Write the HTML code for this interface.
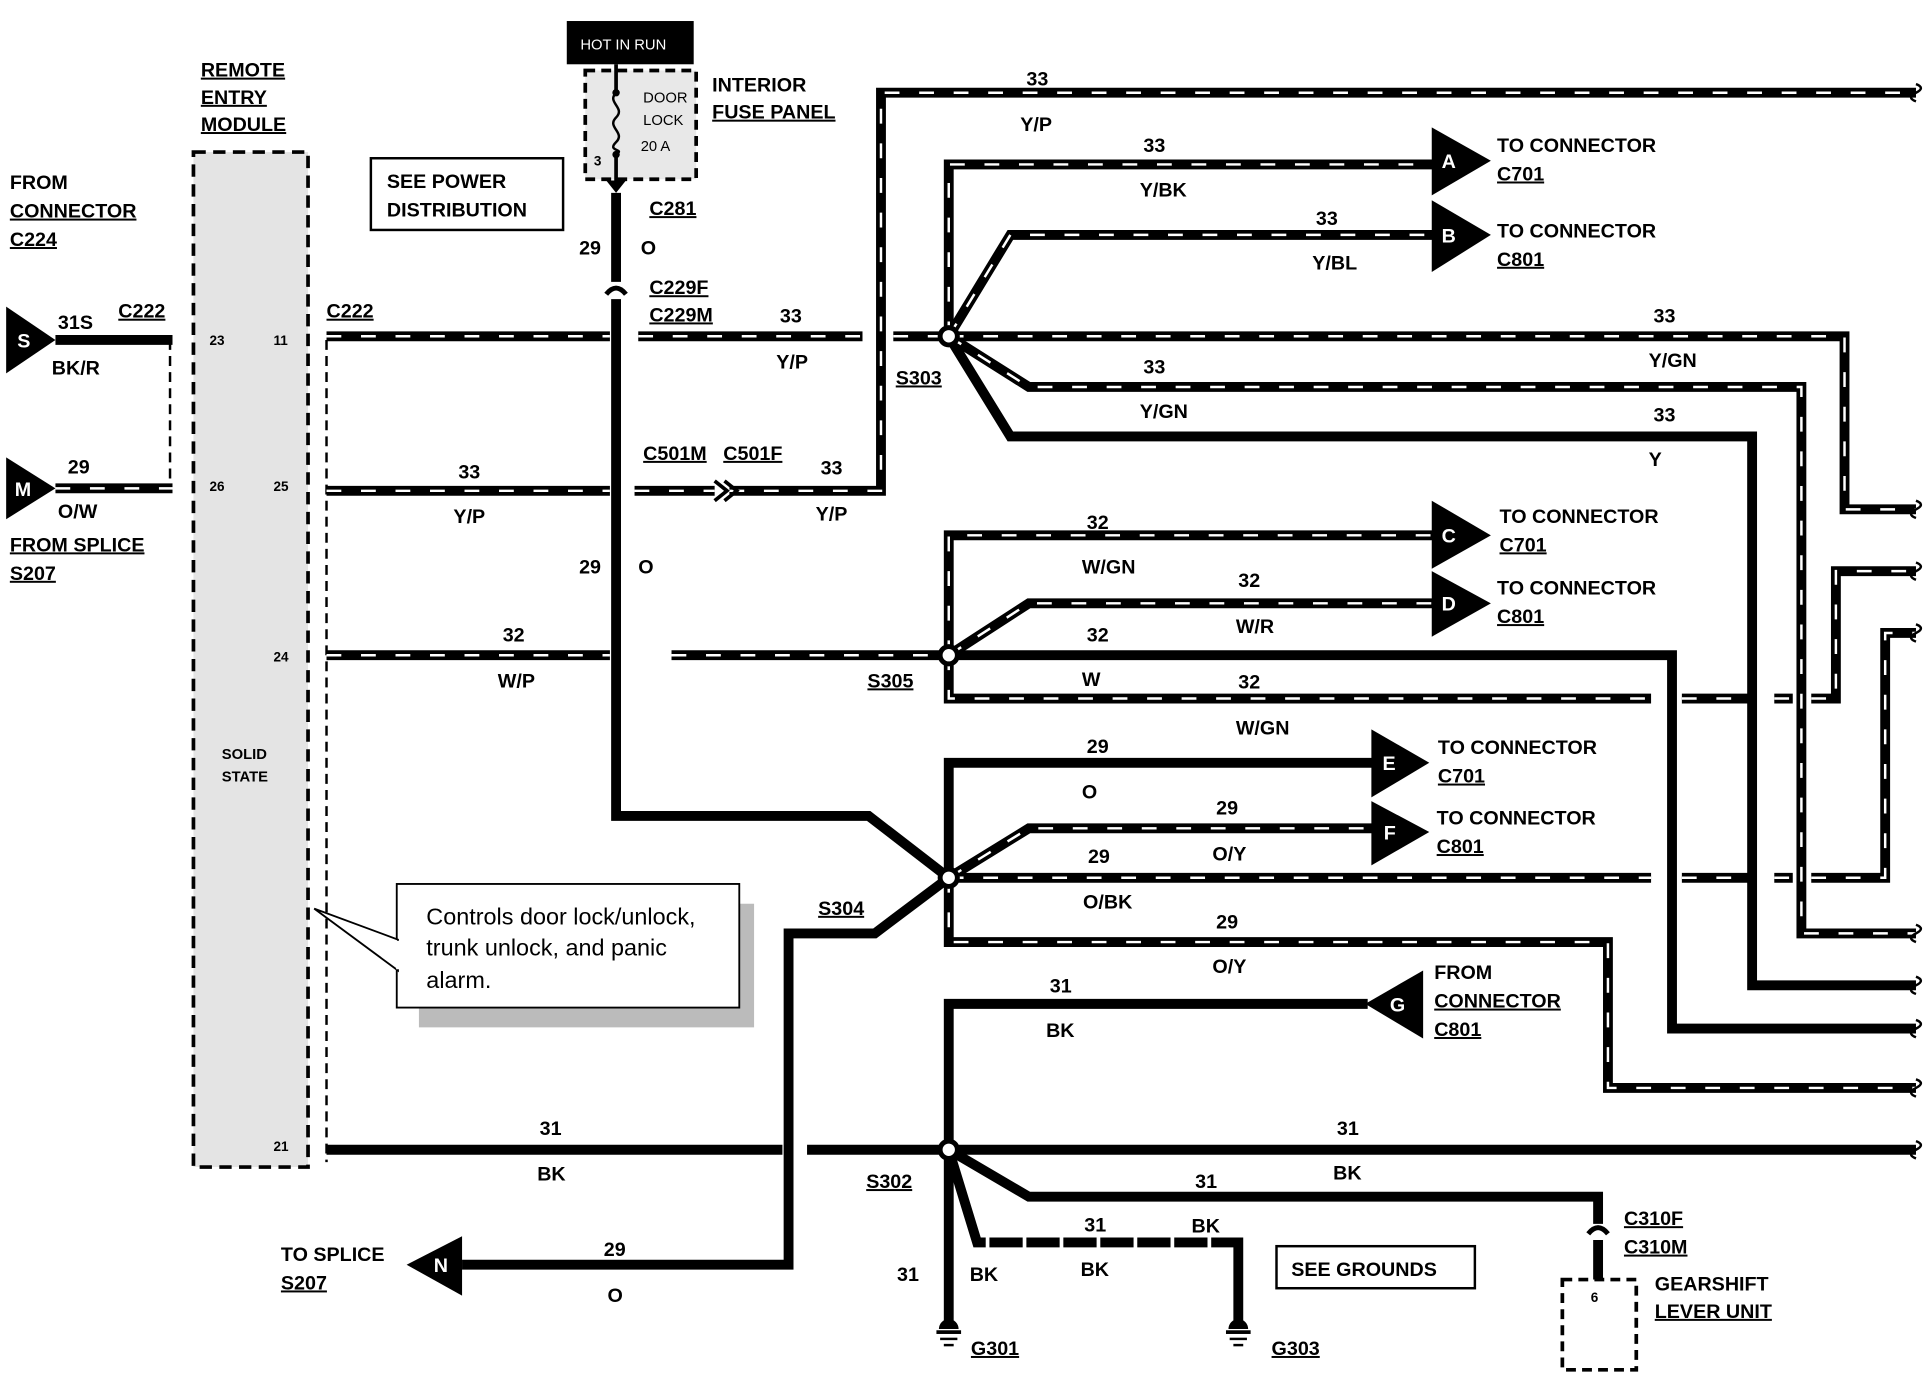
<!DOCTYPE html>
<html><head><meta charset="utf-8"><style>
html,body{margin:0;padding:0;background:#fff}
svg{display:block}
text{font-family:"Liberation Sans",sans-serif;font-weight:bold;font-size:16px;fill:#000}
.u{text-decoration:underline}
.w{stroke:#000;stroke-width:8;fill:none;stroke-linejoin:miter}
.s{stroke:#fff;stroke-width:2;fill:none;stroke-dasharray:12 16}
</style></head><body>
<svg width="1932" height="1376" viewBox="0 0 1568 1113" preserveAspectRatio="none" xmlns="http://www.w3.org/2000/svg">
<defs>
<g id="striped">
<path d="M265 272H495M518 272H700M725 272H770"/>
<path d="M45 395H140"/>
<path d="M265 397H495M515 397H580M592 397H715V75H1555"/>
<path d="M770 272V133H1165"/>
<path d="M770 272L820 190H1165"/>
<path d="M770 272H1497V412H1555"/>
<path d="M770 272L835 313H1462V755H1555"/>
<path d="M265 530H495M545 530H765"/>
<path d="M770 530V433H1165"/>
<path d="M770 530L835 488H1165"/>
<path d="M770 530V565H1340M1365 565H1420M1440 565H1455M1470 565H1490V462H1555"/>
<path d="M770 710L835 670H1115"/>
<path d="M770 710H1340M1365 710H1420M1440 710H1455M1470 710H1530V512H1555"/>
<path d="M770 710V762H1305V880H1555"/>
</g>
</defs>
<!-- module -->
<rect x="157" y="123" width="93" height="821" fill="#e4e4e4" stroke="#000" stroke-width="3" stroke-dasharray="10 6"/>
<text x="163" y="62" class="u">REMOTE</text>
<text x="163" y="84" class="u">ENTRY</text>
<text x="163" y="106" class="u">MODULE</text>
<g style="font-size:11px">
<text x="170" y="279" style="font-size:11px">23</text><text x="222" y="279" style="font-size:11px">11</text>
<text x="170" y="397" style="font-size:11px">26</text><text x="222" y="397" style="font-size:11px">25</text>
<text x="222" y="535" style="font-size:11px">24</text><text x="222" y="931" style="font-size:11px">21</text>
<text x="180" y="614" style="font-size:12px">SOLID</text><text x="180" y="632" style="font-size:12px">STATE</text>
</g>
<!-- left connectors -->
<polygon points="5,248 45,275 5,302" fill="#000"/><text x="14" y="281" style="fill:#fff">S</text>
<polygon points="5,370 45,395 5,420" fill="#000"/><text x="12" y="401" style="fill:#fff">M</text>
<path d="M45 275H140" class="w"/>
<path d="M138 275V395" stroke="#000" stroke-width="2" stroke-dasharray="8 5"/>
<path d="M265 275V940" stroke="#000" stroke-width="2" stroke-dasharray="8 5"/>
<text x="47" y="266">31S</text><text x="42" y="303">BK/R</text><text x="96" y="257" class="u">C222</text>
<text x="55" y="383">29</text><text x="47" y="419">O/W</text>
<text x="8" y="153">FROM</text><text x="8" y="176" class="u">CONNECTOR</text><text x="8" y="199" class="u">C224</text>
<text x="8" y="446" class="u">FROM SPLICE</text><text x="8" y="469" class="u">S207</text>
<text x="265" y="257" class="u">C222</text>
<!-- fuse -->
<rect x="460" y="17" width="103" height="35" fill="#000"/>
<text x="471" y="40" style="fill:#fff;font-size:12px;font-weight:normal">HOT IN RUN</text>
<rect x="475" y="57" width="90" height="88" fill="#e8e8e8" stroke="#000" stroke-width="3" stroke-dasharray="8 5"/>
<path d="M500 52V75M500 125V150" stroke="#000" stroke-width="3"/>
<path d="M500 75c-8 8 8 12 0 20s8 12 0 20 8 5 0 10" stroke="#000" stroke-width="2" fill="none"/>
<circle cx="500" cy="75" r="3"/><circle cx="500" cy="125" r="3"/>
<text x="522" y="83" style="font-size:12px;font-weight:normal">DOOR</text>
<text x="522" y="101" style="font-size:12px;font-weight:normal">LOCK</text>
<text x="520" y="122" style="font-size:12px;font-weight:normal">20 A</text>
<text x="482" y="134" style="font-size:11px">3</text>
<polygon points="492,146 508,146 500,156" fill="#000"/>
<text x="578" y="74">INTERIOR</text><text x="578" y="96" class="u">FUSE PANEL</text>
<text x="527" y="174" class="u">C281</text>
<rect x="301" y="128" width="156" height="58" fill="#fff" stroke="#000" stroke-width="2"/>
<text x="314" y="152">SEE POWER</text><text x="314" y="175">DISTRIBUTION</text>
<!-- solid wires -->
<path d="M500 156V228M500 242V660H705L770 710" class="w"/>
<path d="M492 238q8-10 16 0" stroke="#000" stroke-width="4" fill="none"/>
<path d="M770 530H1357V832H1555" class="w"/>
<path d="M770 272L820 353H1422V797H1555" class="w"/>
<path d="M770 710V617H1115" class="w"/>
<path d="M770 710L710 755H640V1023H375" class="w"/>
<path d="M770 930V812H1110" class="w"/>
<path d="M265 930H635M655 930H1555" class="w"/>
<path d="M770 930V1075" class="w"/>
<path d="M770 930L835 968H1297V990M1297 1003V1035" class="w"/>
<path d="M1289 998q8-10 16 0" stroke="#000" stroke-width="4" fill="none"/>
<path d="M770 930L793 1005H1005V1075" class="w"/>
<path d="M800 1005H1000" stroke="#fff" stroke-width="9" stroke-dasharray="3 27" stroke-dashoffset="-30"/>
<!-- striped wires -->
<use href="#striped" class="w"/>
<use href="#striped" class="s"/>
<path d="M580 389l10 8-10 8" stroke="#000" stroke-width="3" fill="none"/><path d="M588 389l10 8-10 8" stroke="#000" stroke-width="3" fill="none"/>
<!-- nodes -->
<g fill="#fff" stroke="#000" stroke-width="4">
<circle cx="770" cy="272" r="7"/><circle cx="770" cy="530" r="7"/><circle cx="770" cy="710" r="7"/><circle cx="770" cy="930" r="7"/>
</g>
<!-- arrows -->
<g fill="#000">
<polygon points="1162,103 1210,130 1162,158"/><polygon points="1162,162 1210,190 1162,220"/>
<polygon points="1162,405 1210,433 1162,460"/><polygon points="1162,462 1210,488 1162,515"/>
<polygon points="1113,590 1160,617 1113,645"/><polygon points="1113,648 1160,673 1113,700"/>
<polygon points="1155,785 1108,812 1155,840"/><polygon points="375,1000 330,1023 375,1048"/>
</g>
<g style="fill:#fff">
<text x="1170" y="136" style="fill:#fff">A</text><text x="1170" y="196" style="fill:#fff">B</text>
<text x="1170" y="439" style="fill:#fff">C</text><text x="1170" y="494" style="fill:#fff">D</text>
<text x="1122" y="623" style="fill:#fff">E</text><text x="1123" y="679" style="fill:#fff">F</text>
<text x="1128" y="818" style="fill:#fff">G</text><text x="352" y="1029" style="fill:#fff">N</text>
</g>
<text x="1215" y="123">TO CONNECTOR</text><text x="1215" y="146" class="u">C701</text>
<text x="1215" y="192">TO CONNECTOR</text><text x="1215" y="215" class="u">C801</text>
<text x="1217" y="423">TO CONNECTOR</text><text x="1217" y="446" class="u">C701</text>
<text x="1215" y="481">TO CONNECTOR</text><text x="1215" y="504" class="u">C801</text>
<text x="1167" y="610">TO CONNECTOR</text><text x="1167" y="633" class="u">C701</text>
<text x="1166" y="667">TO CONNECTOR</text><text x="1166" y="690" class="u">C801</text>
<text x="1164" y="792">FROM</text><text x="1164" y="815" class="u">CONNECTOR</text><text x="1164" y="838" class="u">C801</text>
<text x="228" y="1020">TO SPLICE</text><text x="228" y="1043" class="u">S207</text>
<!-- labels -->
<text x="470" y="206">29</text><text x="520" y="206">O</text>
<text x="527" y="238" class="u">C229F</text><text x="527" y="260" class="u">C229M</text>
<text x="633" y="261">33</text><text x="630" y="298">Y/P</text>
<text x="372" y="387">33</text><text x="368" y="423">Y/P</text>
<text x="522" y="372" class="u">C501M</text><text x="587" y="372" class="u">C501F</text>
<text x="666" y="384">33</text><text x="662" y="421">Y/P</text>
<text x="470" y="464">29</text><text x="518" y="464">O</text>
<text x="408" y="519">32</text><text x="404" y="556">W/P</text>
<text x="833" y="69">33</text><text x="828" y="106">Y/P</text>
<text x="928" y="123">33</text><text x="925" y="159">Y/BK</text>
<text x="1068" y="182">33</text><text x="1065" y="218">Y/BL</text>
<text x="1342" y="261">33</text><text x="1338" y="297">Y/GN</text>
<text x="928" y="302">33</text><text x="925" y="338">Y/GN</text>
<text x="1342" y="341">33</text><text x="1338" y="377">Y</text>
<text x="727" y="311" class="u">S303</text>
<text x="882" y="428">32</text><text x="878" y="464">W/GN</text>
<text x="1005" y="475">32</text><text x="1003" y="512">W/R</text>
<text x="882" y="519">32</text><text x="878" y="555">W</text>
<text x="1005" y="557">32</text><text x="1003" y="594">W/GN</text>
<text x="704" y="556" class="u">S305</text>
<text x="882" y="609">29</text><text x="878" y="646">O</text>
<text x="987" y="659">29</text><text x="984" y="696">O/Y</text>
<text x="883" y="698">29</text><text x="879" y="735">O/BK</text>
<text x="987" y="751">29</text><text x="984" y="787">O/Y</text>
<text x="664" y="740" class="u">S304</text>
<text x="490" y="1016">29</text><text x="493" y="1053">O</text>
<text x="852" y="803">31</text><text x="849" y="839">BK</text>
<text x="438" y="918">31</text><text x="436" y="955">BK</text>
<text x="1085" y="918">31</text><text x="1082" y="954">BK</text>
<text x="703" y="961" class="u">S302</text>
<text x="970" y="961">31</text><text x="967" y="997">BK</text>
<text x="880" y="996">31</text><text x="877" y="1032">BK</text>
<text x="728" y="1036">31</text><text x="787" y="1036">BK</text>
<!-- grounds -->
<g fill="#000">
<path d="M762 1075a8 8 0 0 1 16 0z"/><rect x="760" y="1076" width="20" height="3"/><rect x="763" y="1082" width="14" height="2"/><rect x="766" y="1087" width="8" height="2"/>
<path d="M997 1075a8 8 0 0 1 16 0z"/><rect x="995" y="1076" width="20" height="3"/><rect x="998" y="1082" width="14" height="2"/><rect x="1001" y="1087" width="8" height="2"/>
</g>
<text x="788" y="1096" class="u">G301</text><text x="1032" y="1096" class="u">G303</text>
<rect x="1036" y="1008" width="161" height="34" fill="#fff" stroke="#000" stroke-width="2"/>
<text x="1048" y="1032">SEE GROUNDS</text>
<text x="1318" y="991" class="u">C310F</text><text x="1318" y="1014" class="u">C310M</text>
<rect x="1268" y="1035" width="60" height="73" fill="#fff" stroke="#000" stroke-width="3" stroke-dasharray="8 5"/>
<text x="1291" y="1053" style="font-size:11px">6</text>
<text x="1343" y="1044">GEARSHIFT</text><text x="1343" y="1066" class="u">LEVER UNIT</text>
<!-- callout -->
<rect x="340" y="731" width="272" height="100" fill="#bbb"/>
<rect x="322" y="715" width="278" height="100" fill="#fff" stroke="#000" stroke-width="1.5"/>
<polygon points="255,735 323,760 323,785" fill="#fff" stroke="#000" stroke-width="1.5"/>
<path d="M323 761V784" stroke="#fff" stroke-width="3"/>
<text x="346" y="748" style="font-weight:normal;font-size:19px">Controls door lock/unlock,</text>
<text x="346" y="773" style="font-weight:normal;font-size:19px">trunk unlock, and panic</text>
<text x="346" y="799" style="font-weight:normal;font-size:19px">alarm.</text>
<!-- wire end squiggles -->
<g stroke="#000" stroke-width="2" fill="none">
<path d="M1555 68q8 3 0 7t0 7"/><path d="M1555 405q8 3 0 7t0 7"/><path d="M1555 455q8 3 0 7t0 7"/><path d="M1555 505q8 3 0 7t0 7"/>
<path d="M1555 748q8 3 0 7t0 7"/><path d="M1555 790q8 3 0 7t0 7"/><path d="M1555 825q8 3 0 7t0 7"/><path d="M1555 873q8 3 0 7t0 7"/><path d="M1555 923q8 3 0 7t0 7"/>
</g>
</svg>
</body></html>
